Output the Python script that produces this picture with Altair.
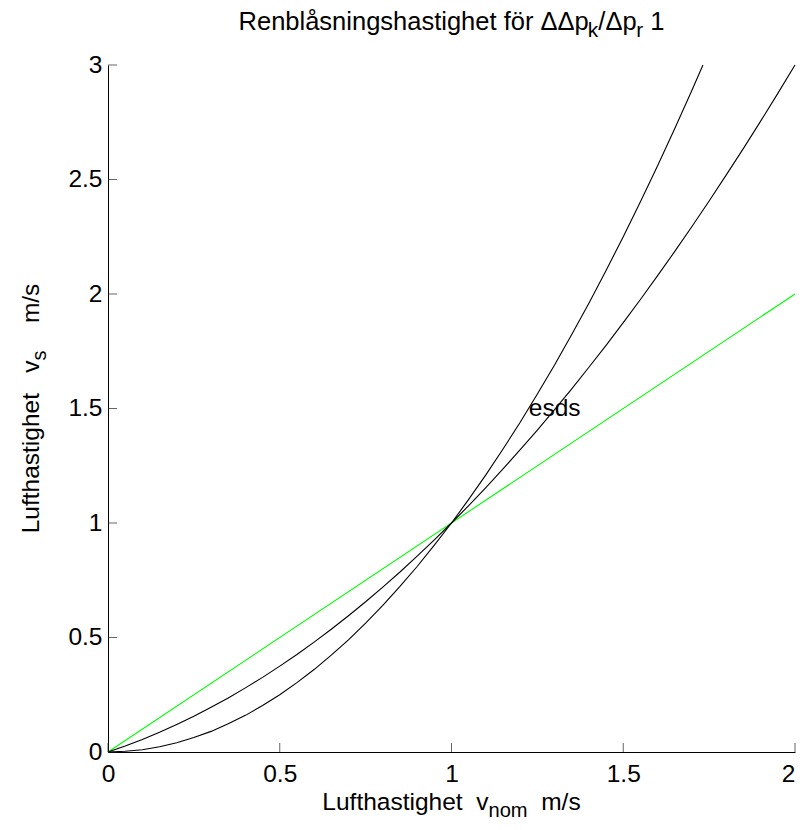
import altair as alt
import pandas as pd

# ---------------- data ----------------
x_green = [0.0, 2.0]
y_green = [0.0, 2.0]

x_lower = [0.0, 0.05, 0.1, 0.15, 0.2, 0.25, 0.3, 0.35, 0.4, 0.45, 0.5, 0.55, 0.6, 0.65,
           0.7, 0.75, 0.8, 0.85, 0.9, 0.95, 1.0, 1.05, 1.1, 1.15, 1.2, 1.25, 1.3, 1.35,
           1.4, 1.45, 1.5, 1.55, 1.6, 1.65, 1.7, 1.732]
y_lower = [0.0, 0.003, 0.01, 0.023, 0.04, 0.063, 0.09, 0.123, 0.16, 0.203, 0.25, 0.303,
           0.36, 0.423, 0.49, 0.563, 0.64, 0.723, 0.81, 0.903, 1.0, 1.103, 1.21, 1.323,
           1.44, 1.563, 1.69, 1.823, 1.96, 2.103, 2.25, 2.403, 2.56, 2.723, 2.89, 3.0]

x_upper = [0.0, 0.05, 0.1, 0.15, 0.2, 0.25, 0.3, 0.35, 0.4, 0.45, 0.5, 0.55, 0.6, 0.65,
           0.7, 0.75, 0.8, 0.85, 0.9, 0.95, 1.0, 1.05, 1.1, 1.15, 1.2, 1.25, 1.3, 1.35,
           1.4, 1.45, 1.5, 1.55, 1.6, 1.65, 1.7, 1.75, 1.8, 1.85, 1.9, 1.95, 2.0]
y_upper = [0.0, 0.026, 0.055, 0.086, 0.12, 0.156, 0.195, 0.236, 0.28, 0.326, 0.375,
           0.426, 0.48, 0.536, 0.595, 0.656, 0.72, 0.786, 0.855, 0.926, 1.0, 1.076,
           1.155, 1.236, 1.32, 1.406, 1.495, 1.586, 1.68, 1.776, 1.875, 1.976, 2.08,
           2.186, 2.295, 2.406, 2.52, 2.636, 2.755, 2.876, 3.0]

x_ticks = [0, 0.5, 1, 1.5, 2]
y_ticks = [0, 0.5, 1, 1.5, 2, 2.5, 3]

annotation_text = ["esds"]
annotation_x = [1.225]
annotation_y = [1.5]

title_parts = [("Renblåsningshastighet för ΔΔp", False, 0), ("k", True, 0),
               ("/Δp", False, 0), ("r", True, 0), ("1", False, 1)]
xlabel_parts = [("Lufthastighet", False, 0), ("v", False, 2), ("nom", True, 0),
                ("m/s", False, 2)]
ylabel_parts = [("Lufthastighet", False, 0), ("v", False, 3), ("s", True, 0),
                ("m/s", False, 4)]

# ---------------- layout ----------------
W = 687
H = 687
X_MAX = 2.0
Y_MAX = 3.0
FONT = "Liberation Sans"
FS = 24.5
FS_T = 25.5
SUB = 0.82
DROP = 7

ARIAL = {'L': 556, 'u': 556, 'f': 278, 't': 278, 'h': 556, 'a': 556, 's': 500, 'i': 222,
         'g': 556, 'e': 556, 'v': 500, 'n': 556, 'o': 556, 'm': 833, '/': 278, 'R': 722,
         'b': 556, 'l': 222, 'å': 556, 'ö': 556, 'r': 333, ' ': 278, 'p': 556, 'k': 500,
         'Δ': 652, '1': 556, 'd': 556}


def tw(s, size):
    return sum(ARIAL.get(c, 556) for c in s) * size / 1000.0


def layout(parts, fs):
    rows = []
    off = 0.0
    for text, sub, gap in parts:
        size = fs * SUB if sub else fs
        off += gap * tw(" ", fs)
        rows.append({"text": text, "off": off, "size": size, "drop": DROP if sub else 0})
        off += tw(text, size)
    return rows, off


def to_data(px, py):
    # convert plot-area pixel offsets to data units of the shared scales
    return px / W * X_MAX, Y_MAX - py / H * Y_MAX


def horiz_df(parts, fs, cx, base):
    rows, total = layout(parts, fs)
    start = cx - total / 2
    out = []
    for r in rows:
        dx, dy = to_data(start + r["off"], base + r["drop"])
        out.append({"text": r["text"], "dx": dx, "dy": dy, "size": r["size"]})
    return pd.DataFrame(out)


def vert_df(parts, fs, cy, base):
    rows, total = layout(parts, fs)
    start = cy + total / 2
    out = []
    for r in rows:
        dx, dy = to_data(base + r["drop"], start - r["off"])
        out.append({"text": r["text"], "dx": dx, "dy": dy, "size": r["size"]})
    return pd.DataFrame(out)


title_df = horiz_df(title_parts, FS_T, W / 2, -35)
xlab_df = horiz_df(xlabel_parts, FS, W / 2, 745)
ylab_df = vert_df(ylabel_parts, FS, H / 2, -69.5)

rows = []
for xs_, ys_, name in [(x_green, y_green, "green"), (x_upper, y_upper, "upper"),
                       (x_lower, y_lower, "lower")]:
    for i, (a, b) in enumerate(zip(xs_, ys_)):
        rows.append({"x": a, "y": b, "series": name, "order": i})
lines_df = pd.DataFrame(rows)

xs = alt.Scale(domain=[0, X_MAX], nice=False, zero=False)
ys = alt.Scale(domain=[0, Y_MAX], nice=False, zero=False)

lines = alt.Chart(lines_df).mark_line(strokeWidth=1.1).encode(
    x=alt.X("x:Q", scale=xs,
            axis=alt.Axis(values=x_ticks, format="~g", title=None, ticks=False,
                          tickSize=0, labelPadding=10, labelFontSize=FS,
                          labelFont=FONT, labelColor="black", domainColor="black",
                          domainWidth=1, grid=False, labelFlush=False,
                          labelAlign={"condition": {"test": "datum.value >= 2",
                                                    "value": "right"},
                                      "value": "center"})),
    y=alt.Y("y:Q", scale=ys,
            axis=alt.Axis(values=y_ticks, format="~g", title=None, ticks=False,
                          tickSize=0, labelPadding=6, labelFontSize=FS,
                          labelFont=FONT, labelColor="black", domainColor="black",
                          domainWidth=1, grid=False, labelFlush=False)),
    color=alt.Color("series:N", legend=None,
                    scale=alt.Scale(domain=["green", "upper", "lower"],
                                    range=["#00ff00", "black", "black"])),
    order="order:Q",
)

xt = alt.Chart(pd.DataFrame({"t": x_ticks})).mark_tick(
    orient="vertical", size=9, thickness=1, color="#222").encode(
    x=alt.X("t:Q", scale=xs), y=alt.value(H - 4.5))

yt = alt.Chart(pd.DataFrame({"t": y_ticks})).mark_tick(
    orient="horizontal", size=9, thickness=1, color="#222").encode(
    y=alt.Y("t:Q", scale=ys), x=alt.value(4.5))

esds = alt.Chart(pd.DataFrame({"text": annotation_text, "x": annotation_x,
                               "y": annotation_y})).mark_text(
    align="left", baseline="middle", font=FONT, fontSize=FS, color="black").encode(
    x=alt.X("x:Q", scale=xs), y=alt.Y("y:Q", scale=ys), text="text:N")


def text_layer(df, angle=0):
    return alt.Chart(df).mark_text(align="left", baseline="alphabetic", font=FONT,
                                   color="black", angle=angle, clip=False).encode(
        x=alt.X("dx:Q", scale=xs),
        y=alt.Y("dy:Q", scale=ys),
        text="text:N",
        size=alt.Size("size:Q", scale=None, legend=None),
    )


chart = alt.layer(
    lines, xt, yt, esds,
    text_layer(title_df), text_layer(xlab_df), text_layer(ylab_df, 270),
).properties(
    width=W, height=H,
    padding={"left": 100, "top": 57, "right": 3, "bottom": 70},
    autosize=alt.AutoSizeParams(type="none"),
    background="white",
).configure_view(stroke=None)

chart.save("out.html", embed_options={"renderer": "svg", "actions": False})
